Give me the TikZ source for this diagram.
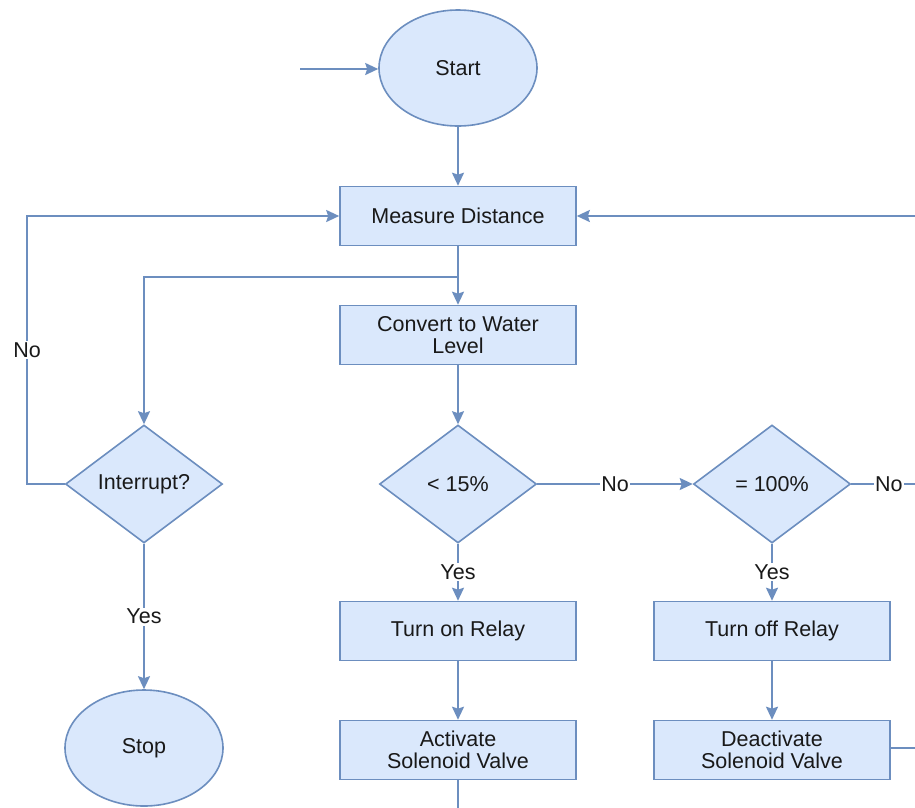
\documentclass[tikz,border=0pt]{standalone}
\usepackage{fontspec}
\setmainfont{Liberation Sans}
\usetikzlibrary{shapes.geometric,arrows.meta}
\definecolor{boxfill}{HTML}{DAE8FC}
\definecolor{boxline}{HTML}{6C8EBF}
\begin{document}
\begin{tikzpicture}[x=1pt,y=-1pt,
  every node/.style={font=\fontsize{21.5}{22.5}\selectfont, text=black!90},
  proc/.style={draw=boxline, fill=boxfill, line width=1.6pt, minimum width=236pt, minimum height=59pt, inner sep=2pt, align=center},
  term/.style={ellipse, draw=boxline, fill=boxfill, line width=1.6pt, minimum width=158pt, minimum height=116pt, inner sep=0pt},
  decide/.style={diamond, draw=boxline, fill=boxfill, line width=1.6pt, minimum width=157pt, minimum height=118pt, inner sep=0pt},
  conn/.style={draw=boxline, line width=2pt},
  arr/.style={conn, -{Stealth[length=13pt,width=12pt,inset=2pt]}},
  lbl/.style={fill=white, inner sep=1.5pt}
]
\useasboundingbox (0,0) rectangle (915,807);
\fill[white] (0,0) rectangle (915,807);

\node[term] (start) at (458,68) {Start};
\node[proc] (meas) at (458,216) {Measure Distance};
\node[proc] (conv) at (458,335) {Convert to Water\\Level};
\node[decide] (int) at (144,484) {Interrupt?};
\node[decide] (low) at (458,484) {< 15\%};
\node[decide] (full) at (772,484) {= 100\%};
\node[proc] (on) at (458,631) {Turn on Relay};
\node[proc] (act) at (458,750) {Activate\\Solenoid Valve};
\node[proc] (off) at (772,631) {Turn off Relay};
\node[proc] (deact) at (772,750) {Deactivate\\Solenoid Valve};
\node[term] (stop) at (144,748) {Stop};

\coordinate (in) at (300,69);
\coordinate (rin) at (915,216);
\coordinate (rno) at (915,484);
\coordinate (rdeact) at (915,748);
\coordinate (bot) at (458,810);
\coordinate (branch) at (458,277);
\coordinate (lc) at (27,484);

\draw[arr] (in) -- (start.west |- in);
\draw[arr] (start.south) -- (meas.north);
\draw[arr] (rin) -- (meas.east);
\draw[arr] (int.west) -- (lc) |- node[pos=0.25, lbl] {No} (meas.west);
\draw[arr] (meas.south) -- (conv.north);
\draw[arr] (branch) -| (int.north);
\draw[arr] (conv.south) -- (low.north);
\draw[arr] (low.east) -- node[pos=0.5, lbl] {No} (full.west);
\draw[conn] (full.east) -- node[pos=0.59, lbl] {No} (rno);
\draw[arr] (low.south) -- node[pos=0.5, lbl] {Yes} (on.north);
\draw[arr] (on.south) -- (act.north);
\draw[conn] (act.south) -- (bot);
\draw[arr] (full.south) -- node[pos=0.5, lbl] {Yes} (off.north);
\draw[arr] (off.south) -- (deact.north);
\draw[conn] (deact.east |- rdeact) -- (rdeact);
\draw[arr] (int.south) -- node[pos=0.5, lbl] {Yes} (stop.north);
\end{tikzpicture}
\end{document}
